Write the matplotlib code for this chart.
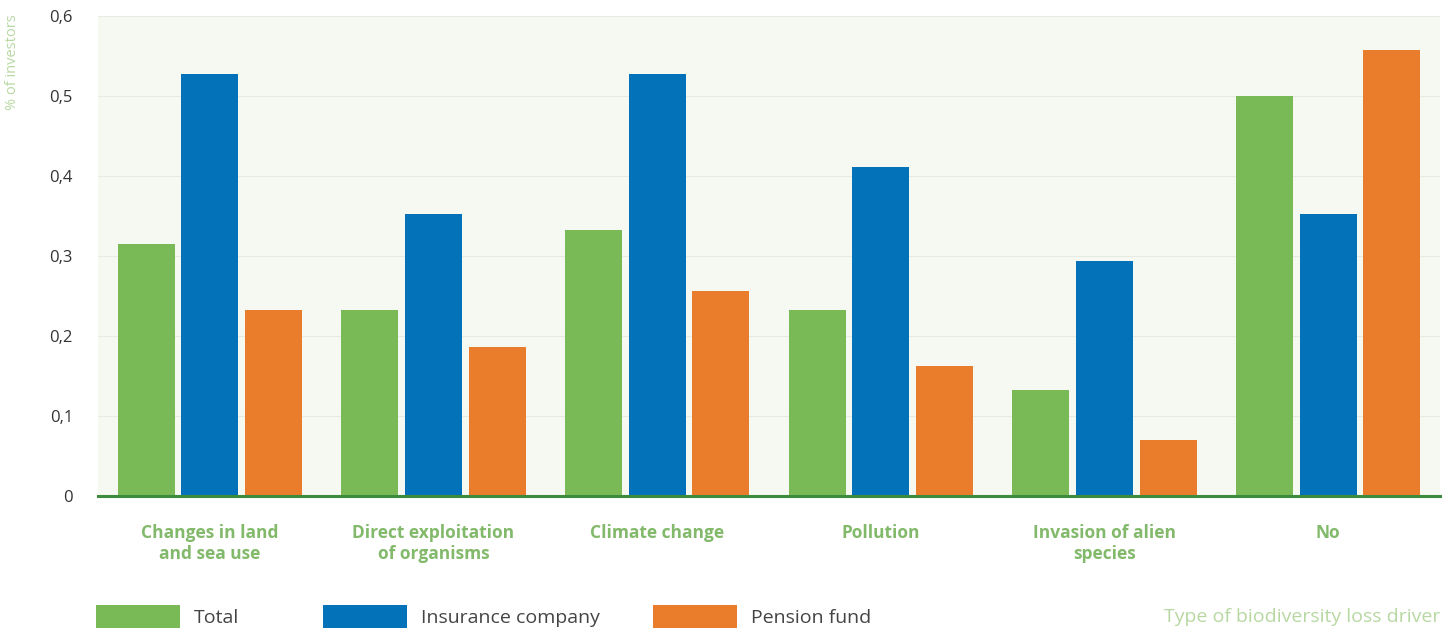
import matplotlib
matplotlib.use("Agg")
import matplotlib.pyplot as plt
import numpy as np
from matplotlib.patches import Patch

categories = ["Changes in land\nand sea use", "Direct exploitation\nof organisms", "Climate change",
              "Pollution", "Invasion of alien\nspecies", "No"]
total = [0.315, 0.232, 0.332, 0.232, 0.132, 0.5]
insurance = [0.528, 0.353, 0.528, 0.411, 0.294, 0.353]
pension = [0.232, 0.186, 0.256, 0.163, 0.07, 0.558]
series_names = ["Total", "Insurance company", "Pension fund"]
yticks = [0, 0.1, 0.2, 0.3, 0.4, 0.5, 0.6]
ytick_labels = ["0", "0,1", "0,2", "0,3", "0,4", "0,5", "0,6"]

colors = ["#79b956", "#0472b8", "#ea7d2c"]
plt.rcParams['font.family'] = ['Open Sans', 'DejaVu Sans']

W, H = 1446, 628
fig = plt.figure(figsize=(W / 100, H / 100), dpi=100)
ax = fig.add_axes([98 / W, 1 - 496 / H, (1440 - 98) / W, (496 - 16) / H])
ax.set_facecolor("#f5f9f1")

x = np.arange(len(categories))
bw = 0.255
off = 0.285
bars = []
for i, (vals, c) in enumerate(zip([total, insurance, pension], colors)):
    b = ax.bar(x + (i - 1) * off, vals, width=bw, color=c, zorder=3)
    bars.append(b)

ax.set_xlim(-0.5, len(categories) - 0.5)
ax.set_ylim(0, 0.6)
ax.set_yticks(yticks)
ax.set_yticklabels(ytick_labels, fontsize=12, color="#333333")
ax.set_xticks(x)
ax.set_xticklabels(categories, fontsize=12.5, fontweight="bold", color="#82b96a", linespacing=1.2)
ax.tick_params(axis="both", length=0)
ax.tick_params(axis="y", pad=18)
ax.tick_params(axis="x", pad=20)
for t in ax.get_xticklabels():
    t.set_verticalalignment("top")
ax.grid(axis="y", color="#e6ece1", linewidth=0.8, zorder=0)
for s in ["top", "right", "left"]:
    ax.spines[s].set_visible(False)
ax.spines["bottom"].set_color("#3d8b3d")
ax.spines["bottom"].set_linewidth(2.2)
ax.spines["bottom"].set_zorder(4)

fig.text(13 / W, 1 - 14 / H, "% of investors", rotation=90, ha="center", va="top",
         fontsize=10.5, color="#b7d8a2")
fig.text(1440 / W, 1 - 617 / H, "Type of biodiversity loss driver", ha="right", va="center",
         fontsize=14, color="#b7d8a2")

# legend entries positioned individually
leg_x = [96, 323, 653]
for name, c, lx in zip(series_names, colors, leg_x):
    leg = fig.legend(handles=[Patch(facecolor=c, edgecolor="none")], labels=[name],
                     loc="center left", bbox_to_anchor=(lx / W, 1 - 617 / H),
                     frameon=False, fontsize=14, handlelength=4.3, handleheight=1.5,
                     handletextpad=0.75, borderpad=0, borderaxespad=0, labelcolor="#444444")

fig.savefig("out.png", dpi=100, facecolor="white")
